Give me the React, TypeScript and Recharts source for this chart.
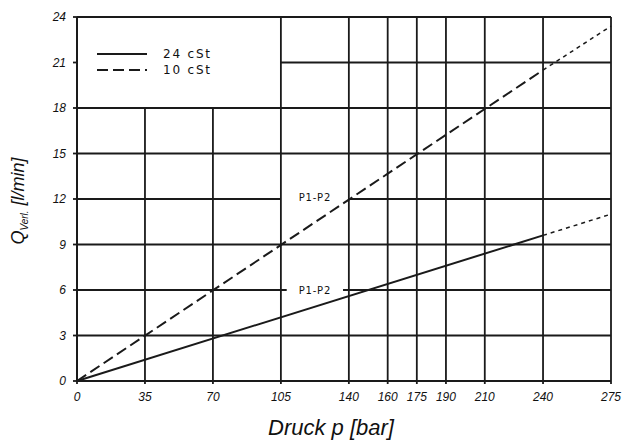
import React from 'react';
import { LineChart, Line, XAxis, YAxis, ReferenceLine, Legend } from 'recharts';

// pressure [bar] and leakage flow [l/min]
const PRESSURE = [0, 240, 275];
const FLOW_24_CST = [0, 9.6, 11.0];
const FLOW_10_CST = [0, 20.5, 23.4];
// beyond this pressure the curves are only extrapolated (short dashes)
const MEASURED_MAX = 240;

const SERIES_NAMES = ['24 cSt', '10 cSt'];
const X_TICKS = [0, 35, 70, 105, 140, 160, 175, 190, 210, 240, 275];
const Y_TICKS = [0, 3, 6, 9, 12, 15, 18, 21, 24];

const INK = '#1a1a1a';

const data = PRESSURE.map((p, i) => ({
  p,
  v24: p <= MEASURED_MAX ? FLOW_24_CST[i] : null,
  v24ext: p >= MEASURED_MAX ? FLOW_24_CST[i] : null,
  v10: p <= MEASURED_MAX ? FLOW_10_CST[i] : null,
  v10ext: p >= MEASURED_MAX ? FLOW_10_CST[i] : null,
}));

// grid pieces: [value, from, to]
const H_LINES: [number, number, number][] = [
  [3, 0, 275],
  [6, 0, 108],
  [6, 137, 275],
  [9, 0, 275],
  [12, 0, 105],
  [12, 140, 275],
  [15, 0, 275],
  [18, 0, 275],
  [21, 105, 275],
  [24, 0, 275],
];
const V_LINES: [number, number, number][] = [
  [35, 0, 18],
  [70, 0, 18],
  [105, 0, 24],
  [140, 0, 24],
  [160, 0, 24],
  [175, 0, 24],
  [190, 0, 24],
  [210, 0, 24],
  [240, 0, 24],
  [275, 0, 24],
];

const tickStyle = {
  fill: '#111',
  fontSize: 12,
  fontStyle: 'italic',
  fontFamily: 'Liberation Sans, Arial, sans-serif',
};

const smallLabel = {
  fill: '#111',
  fontSize: 10,
  fontFamily: 'DejaVu Sans, sans-serif',
  letterSpacing: 0.8,
};

const renderLegend = ({ payload }: any) => {
  const items = (payload || [])
    .filter((e: any) => SERIES_NAMES.includes(e.value))
    .sort((a: any, b: any) => SERIES_NAMES.indexOf(a.value) - SERIES_NAMES.indexOf(b.value));
  return (
    <svg width={170} height={40} style={{ overflow: 'visible' }}>
      {items.map((entry: any, i: number) => (
        <g key={i} transform={`translate(0, ${i * 16})`}>
          <line
            x1={1}
            x2={51}
            y1={8}
            y2={8}
            stroke={INK}
            strokeWidth={1.8}
            strokeDasharray={entry.payload?.strokeDasharray}
          />
          <text
            x={67}
            y={8}
            dominantBaseline="central"
            fill="#111"
            fontSize={12}
            fontFamily="DejaVu Sans, sans-serif"
            letterSpacing={1.8}
          >
            {entry.value}
          </text>
        </g>
      ))}
    </svg>
  );
};

const YTitle = () => (
  <text
    x={24}
    y={201}
    transform="rotate(-90, 24, 201)"
    textAnchor="middle"
    fill="#111"
    fontFamily="Liberation Sans, Arial, sans-serif"
    fontStyle="italic"
    fontSize={18}
  >
    Q
    <tspan fontSize={10} dy={4}>Verl.</tspan>
    <tspan dy={-4}> [l/min]</tspan>
  </text>
);

export default function App() {
  return (
    <div style={{ position: 'absolute', left: 0, top: 0 }}>
      <LineChart
        width={624}
        height={443}
        data={data}
        margin={{ top: 17, right: 13, bottom: 0, left: 0 }}
      >
        {H_LINES.map(([y, a, b], i) => (
          <ReferenceLine
            key={`h${i}`}
            segment={[{ x: a, y }, { x: b, y }]}
            stroke={INK}
            strokeWidth={1.8}
          />
        ))}
        {V_LINES.map(([x, a, b], i) => (
          <ReferenceLine
            key={`v${i}`}
            segment={[{ x, y: a }, { x, y: b }]}
            stroke={INK}
            strokeWidth={1.8}
          />
        ))}
        <ReferenceLine
          segment={[{ x: 105, y: 12 }, { x: 140, y: 12 }]}
          stroke="none"
          label={{ value: 'P1-P2', position: 'center', dy: -2, ...smallLabel }}
        />
        <ReferenceLine
          segment={[{ x: 108, y: 6 }, { x: 137, y: 6 }]}
          stroke="none"
          label={{ value: 'P1-P2', position: 'center', ...smallLabel }}
        />
        <XAxis
          dataKey="p"
          type="number"
          domain={[0, 275]}
          ticks={X_TICKS}
          interval={0}
          height={62}
          tick={tickStyle}
          tickSize={3}
          tickMargin={8}
          axisLine={{ stroke: INK, strokeWidth: 2 }}
          tickLine={{ stroke: INK, strokeWidth: 1.8 }}
          label={{
            value: 'Druck p [bar]',
            position: 'insideBottom',
            dx: -13,
            dy: -3,
            fill: '#111',
            fontSize: 22,
            fontStyle: 'italic',
            fontFamily: 'Liberation Sans, Arial, sans-serif',
          }}
        />
        <YAxis
          type="number"
          domain={[0, 24]}
          ticks={Y_TICKS}
          interval={0}
          width={77}
          tick={tickStyle}
          tickSize={4}
          tickMargin={7}
          axisLine={{ stroke: INK, strokeWidth: 2 }}
          tickLine={{ stroke: INK, strokeWidth: 1.8 }}
          label={{ content: () => <YTitle /> }}
        />
        <Legend
          layout="vertical"
          align="center"
          verticalAlign="middle"
          content={renderLegend}
          wrapperStyle={{ left: 96, top: 46, width: 170, height: 40 }}
        />
        <Line
          dataKey="v24"
          name="24 cSt"
          stroke={INK}
          strokeWidth={2}
          dot={false}
          activeDot={false}
          isAnimationActive={false}
        />
        <Line
          dataKey="v10"
          name="10 cSt"
          stroke={INK}
          strokeWidth={2}
          strokeDasharray="11 5"
          dot={false}
          activeDot={false}
          isAnimationActive={false}
        />
        <Line
          dataKey="v24ext"
          legendType="none"
          stroke={INK}
          strokeWidth={1.5}
          strokeDasharray="4 4"
          dot={false}
          activeDot={false}
          isAnimationActive={false}
        />
        <Line
          dataKey="v10ext"
          legendType="none"
          stroke={INK}
          strokeWidth={1.5}
          strokeDasharray="4 4"
          dot={false}
          activeDot={false}
          isAnimationActive={false}
        />
      </LineChart>
    </div>
  );
}
